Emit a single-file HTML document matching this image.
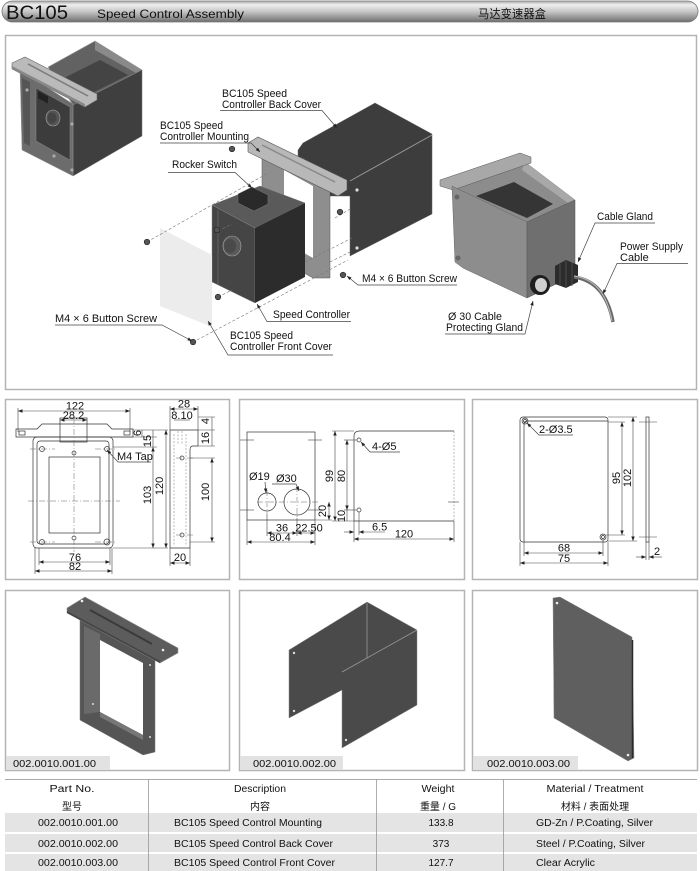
<!DOCTYPE html>
<html><head><meta charset="utf-8"><style>
html,body{margin:0;padding:0;background:#fff;}
svg{display:block;}
text{font-family:"Liberation Sans","Noto Sans CJK SC",sans-serif;fill:#111;}
.d{stroke:#444;stroke-width:0.6;fill:none;}
.c{stroke:#666;stroke-width:0.5;fill:none;stroke-dasharray:6,2,1,2;}
.h{stroke:#777;stroke-width:0.5;fill:none;stroke-dasharray:2,1.5;}
.ld{stroke:#444;stroke-width:0.7;fill:none;}
.dash{stroke:#777;stroke-width:0.6;fill:none;stroke-dasharray:3,2;}
.o{stroke:#333;stroke-width:0.7;fill:none;}
.n{font-size:11px;}
.l{font-size:11px;}
.t{font-size:10px;}
</style></head><body>
<svg width="700" height="871" viewBox="0 0 700 871" xmlns="http://www.w3.org/2000/svg">
<defs>
<linearGradient id="hg" x1="0" y1="0" x2="0" y2="1">
<stop offset="0" stop-color="#a8a8a8"/><stop offset="0.18" stop-color="#eeeeee"/><stop offset="0.5" stop-color="#c6c6c6"/><stop offset="0.85" stop-color="#8a8a8a"/><stop offset="1" stop-color="#6c6c6c"/>
</linearGradient>
<marker id="ar" viewBox="0 0 6 6" refX="6" refY="3" markerWidth="4.5" markerHeight="4.5" markerUnits="userSpaceOnUse" orient="auto-start-reverse"><path d="M0,0.7 L6,3 L0,5.3 Z" fill="#222"/></marker>
</defs>

<!-- HEADER -->
<rect x="2" y="1" width="696" height="21" rx="10.5" fill="url(#hg)" stroke="#777" stroke-width="0.8"/>
<text x="6" y="19" font-size="19" textLength="62" lengthAdjust="spacingAndGlyphs">BC105</text>
<text x="97" y="18" font-size="12" textLength="147" lengthAdjust="spacingAndGlyphs">Speed Control Assembly</text>
<text x="478" y="18" font-size="12" textLength="68" lengthAdjust="spacingAndGlyphs">马达变速器盒</text>

<!-- PANELS -->
<rect x="5.5" y="35.5" width="691" height="354" fill="#fff" stroke="#b4b4b4" stroke-width="1.5"/>
<rect x="5.5" y="399.5" width="224" height="180" fill="#fff" stroke="#b4b4b4" stroke-width="1.5"/>
<rect x="239.5" y="399.5" width="225" height="180" fill="#fff" stroke="#b4b4b4" stroke-width="1.5"/>
<rect x="472.5" y="399.5" width="225" height="180" fill="#fff" stroke="#b4b4b4" stroke-width="1.5"/>
<rect x="5.5" y="590.5" width="224" height="180" fill="#fff" stroke="#b4b4b4" stroke-width="1.5"/>
<rect x="239.5" y="590.5" width="225" height="180" fill="#fff" stroke="#b4b4b4" stroke-width="1.5"/>
<rect x="472.5" y="590.5" width="225" height="180" fill="#fff" stroke="#b4b4b4" stroke-width="1.5"/>

<!-- ===== TOP ASSEMBLY ===== -->
<!-- top-left assembled box -->
<polygon points="48,67 95,41 142,70 73,105" fill="#626262" stroke="#aaa" stroke-width="0.6"/>
<polygon points="95,41 142,70 136,73 95,50" fill="#8a8a8a"/>
<polygon points="64,78 100,60 128,75 92,93" fill="#444"/>
<polygon points="73,105 142,70 142,136 73,176" fill="#3f3f3f" stroke="#777" stroke-width="0.5"/>
<polygon points="20,70 73,104 73,176 22,150" fill="#6c6c6c" stroke="#999" stroke-width="0.5"/>
<polygon points="36,88 70,107 70,160 36,141" fill="#3c3c3c" stroke="#888" stroke-width="0.5"/>
<polygon points="22,78 30,82 30,146 24,143" fill="#555"/>
<ellipse cx="53" cy="118" rx="7" ry="8" fill="#555" stroke="#aaa" stroke-width="0.6"/>
<ellipse cx="52" cy="118" rx="4.5" ry="5.5" fill="#444"/>
<rect x="38" y="93" width="10" height="7" fill="#222" transform="skewY(28) translate(0,-22)"/>
<circle cx="27" cy="90" r="1.6" fill="#aaa"/><circle cx="72" cy="124" r="1.6" fill="#aaa"/><circle cx="72" cy="170" r="1.6" fill="#aaa"/><circle cx="54" cy="156" r="1.6" fill="#aaa"/>
<polygon points="12,63 25,57 97,94 97,100 85,107 12,69" fill="#bababa" stroke="#666" stroke-width="0.6"/>
<polygon points="12,66 85,104 85,107 12,69" fill="#888"/>
<line x1="28" y1="64" x2="88" y2="96" stroke="#7a7a7a" stroke-width="1.5"/>

<!-- back cover -->
<polygon points="298,150 303,143 375,103 432,134 432,214 350,256 350,196 298,196" fill="#3d3d3d" stroke="#666" stroke-width="0.5"/>
<line x1="350" y1="181" x2="432" y2="135" stroke="#9a9a9a" stroke-width="1"/>
<circle cx="303" cy="160" r="1.6" fill="#ddd"/><circle cx="357" cy="190" r="1.6" fill="#ddd"/><circle cx="357" cy="248" r="1.6" fill="#ddd"/>
<!-- mounting frame -->
<polygon points="262,150 330,188 330,278 313,278 262,250" fill="#8e8e8e" stroke="#555" stroke-width="0.5"/>
<polygon points="284,170 313,186 313,258 284,242" fill="#fff"/>
<polygon points="248,143 258,137 347,180 347,190 338,196 248,152" fill="#b8b8b8" stroke="#555" stroke-width="0.6"/>
<line x1="262" y1="145" x2="335" y2="182" stroke="#888" stroke-width="1.5"/>
<!-- controller -->
<polygon points="212,205 260,186 305,203 255,228" fill="#5a5a5a" stroke="#777" stroke-width="0.5"/>
<polygon points="212,205 255,228 255,303 212,282" fill="#454545" stroke="#888" stroke-width="0.5"/>
<polygon points="255,228 305,203 305,277 255,303" fill="#2c2c2c"/>
<line x1="218" y1="210" x2="218" y2="285" stroke="#777" stroke-width="0.6"/>
<ellipse cx="232" cy="246" rx="9" ry="10" fill="#5a5a5a" stroke="#aaa" stroke-width="0.6"/>
<ellipse cx="230" cy="246" rx="6" ry="7" fill="#4a4a4a"/>
<polygon points="238,194 252,187 268,195 268,204 254,211 238,203" fill="#2a2a2a" stroke="#777" stroke-width="0.5"/>
<!-- front cover -->
<polygon points="160,228 212,255 212,327 160,306" fill="#ececec"/>
<!-- dashed assembly lines -->
<line class="dash" x1="147" y1="242" x2="268" y2="173"/>
<line class="dash" x1="197" y1="340" x2="348" y2="260"/>
<line class="dash" x1="218" y1="297" x2="232" y2="290"/>
<line class="dash" x1="305" y1="262" x2="352" y2="238"/>
<line class="dash" x1="218" y1="231" x2="232" y2="224"/>
<line class="dash" x1="330" y1="262" x2="350" y2="252"/>
<line class="dash" x1="335" y1="218" x2="352" y2="208"/>
<!-- screws -->
<g fill="#555" stroke="#222" stroke-width="0.6">
<circle cx="147" cy="242" r="2.8"/><circle cx="217" cy="230" r="2.8"/><circle cx="218" cy="297" r="2.8"/><circle cx="193" cy="342" r="2.8"/><circle cx="232" cy="149" r="2.8"/><circle cx="340" cy="212" r="2.8"/><circle cx="343" cy="275" r="2.8"/>
</g>

<!-- right assembled box -->
<polygon points="452,186 525,162 575,200 527,222" fill="#8c8c8c" stroke="#666" stroke-width="0.5"/>
<polygon points="525,162 575,200 568,203 522,170" fill="#a8a8a8"/>
<polygon points="476,196 514,182 553,204 527,218" fill="#353535"/>
<polygon points="440,180 520,153 531,157 531,163 453,190 440,186" fill="#a8a8a8" stroke="#555" stroke-width="0.5"/>
<polygon points="452,186 527,222 527,298 463,268 455,262" fill="#8d8d8d" stroke="#666" stroke-width="0.5"/>
<polygon points="527,222 575,200 575,275 527,298" fill="#6f6f6f" stroke="#555" stroke-width="0.5"/>
<circle cx="457" cy="197" r="2.5" fill="#666"/><circle cx="458" cy="258" r="2.5" fill="#666"/>
<circle cx="540" cy="285" r="10" fill="#1e1e1e"/>
<ellipse cx="541" cy="285" rx="6" ry="7" fill="#cfcfcf"/>
<polygon points="555,266 566,260 578,265 578,282 566,288 555,284" fill="#2c2c2c"/>
<line x1="560" y1="264" x2="560" y2="286" stroke="#555" stroke-width="0.8"/>
<line x1="566" y1="261" x2="566" y2="288" stroke="#555" stroke-width="0.8"/>
<line x1="572" y1="262" x2="572" y2="286" stroke="#555" stroke-width="0.8"/>
<path d="M574,277 C595,280 608,295 613,322" stroke="#6a6a6a" stroke-width="3.5" fill="none"/>
<path d="M574,276 C595,279 607,294 612,321" stroke="#bbb" stroke-width="1" fill="none"/>

<!-- top labels -->
<text class="l" x="222" y="97" textLength="65" lengthAdjust="spacingAndGlyphs">BC105 Speed</text>
<text class="l" x="222" y="108" textLength="99" lengthAdjust="spacingAndGlyphs">Controller Back Cover</text>
<polyline class="ld" points="220,110.5 322,110.5 337,128" marker-end="url(#ar)"/>
<text class="l" x="160" y="129" textLength="63" lengthAdjust="spacingAndGlyphs">BC105 Speed</text>
<text class="l" x="160" y="140" textLength="89" lengthAdjust="spacingAndGlyphs">Controller Mounting</text>
<polyline class="ld" points="160,143 251,143 260,152" marker-end="url(#ar)"/>
<text class="l" x="172" y="168" textLength="65" lengthAdjust="spacingAndGlyphs">Rocker Switch</text>
<polyline class="ld" points="168,172.5 235,172.5 252,188" marker-end="url(#ar)"/>
<text class="l" x="273" y="318" textLength="77" lengthAdjust="spacingAndGlyphs">Speed Controller</text>
<polyline class="ld" points="351,321.5 267,321.5 257,304" marker-end="url(#ar)"/>
<text class="l" x="230" y="339" textLength="63" lengthAdjust="spacingAndGlyphs">BC105 Speed</text>
<text class="l" x="230" y="350" textLength="102" lengthAdjust="spacingAndGlyphs">Controller Front Cover</text>
<polyline class="ld" points="333,355 228,355 208,321" marker-end="url(#ar)"/>
<text class="l" x="55" y="322" textLength="102" lengthAdjust="spacingAndGlyphs">M4 × 6 Button Screw</text>
<polyline class="ld" points="55,325 162,325 192,341" marker-end="url(#ar)"/>
<text class="l" x="362" y="282" textLength="95" lengthAdjust="spacingAndGlyphs">M4 × 6 Button Screw</text>
<polyline class="ld" points="457,285 358,285 347,276" marker-end="url(#ar)"/>
<text class="l" x="597" y="220" textLength="56" lengthAdjust="spacingAndGlyphs">Cable Gland</text>
<polyline class="ld" points="655,223 595,223 578,262" marker-end="url(#ar)"/>
<text class="l" x="620" y="250" textLength="63" lengthAdjust="spacingAndGlyphs">Power Supply</text>
<text class="l" x="620" y="261">Cable</text>
<polyline class="ld" points="688,263.5 617,263.5 603,294" marker-end="url(#ar)"/>
<text class="l" x="448" y="320" textLength="54" lengthAdjust="spacingAndGlyphs">Ø 30 Cable</text>
<text class="l" x="446" y="331" textLength="77" lengthAdjust="spacingAndGlyphs">Protecting Gland</text>
<polyline class="ld" points="445,334 525,334 533,301" marker-end="url(#ar)"/>

<!-- ===== DRAWING PANEL 1 ===== -->
<line class="d" x1="18" y1="411" x2="130" y2="411" marker-start="url(#ar)" marker-end="url(#ar)"/>
<text class="n" x="75" y="409.5" text-anchor="middle">122</text>
<line class="d" x1="18" y1="408" x2="18" y2="432"/><line class="d" x1="130" y1="408" x2="130" y2="432"/>
<line class="d" x1="60" y1="420" x2="87" y2="420" marker-start="url(#ar)" marker-end="url(#ar)"/>
<text class="n" x="73.5" y="419" text-anchor="middle">28.2</text>
<path class="o" d="M16,429 H37 L42,424 H107 L112,429 H133 V437 H16 Z"/>
<rect class="o" x="60" y="418" width="27" height="24"/>
<rect x="19" y="431" width="6" height="4" class="o"/><rect x="124" y="431" width="6" height="4" class="o"/>
<rect class="o" x="33" y="437" width="80" height="111" rx="4"/>
<rect class="o" x="37" y="441" width="72" height="103" rx="3"/>
<rect class="o" x="49" y="457" width="51" height="76"/>
<g class="o"><circle cx="42" cy="449" r="2.5"/><circle cx="107" cy="449" r="2.5"/><circle cx="42" cy="542" r="2.5"/><circle cx="107" cy="542" r="3"/><circle cx="74" cy="453" r="2"/><circle cx="74" cy="538" r="2"/></g>
<line class="c" x1="28" y1="501" x2="120" y2="501"/>
<line class="c" x1="74" y1="418" x2="74" y2="552"/>
<line class="c" x1="30" y1="449" x2="55" y2="449"/><line class="c" x1="95" y1="449" x2="116" y2="449"/>
<line class="c" x1="30" y1="542" x2="55" y2="542"/><line class="c" x1="95" y1="542" x2="116" y2="542"/>
<text class="n" x="117" y="460">M4 Tap</text>
<polyline class="ld" points="151,462 118,462 107,450" marker-end="url(#ar)"/>
<line class="d" x1="133" y1="430" x2="168" y2="430"/>
<line class="d" x1="113" y1="437" x2="157" y2="437"/>
<line class="d" x1="113" y1="447" x2="157" y2="447"/>
<line class="d" x1="113" y1="548" x2="168" y2="548"/>
<line class="d" x1="153" y1="447" x2="153" y2="548" marker-start="url(#ar)" marker-end="url(#ar)"/>
<line class="d" x1="166" y1="430" x2="166" y2="548" marker-start="url(#ar)" marker-end="url(#ar)"/>
<line class="d" x1="153" y1="430" x2="153" y2="447"/>
<line class="d" x1="142" y1="430" x2="142" y2="437"/>
<text class="n" transform="translate(141,433) rotate(-90)" text-anchor="middle" font-size="9">6</text>
<text class="n" transform="translate(151,441) rotate(-90)" text-anchor="middle">15</text>
<text class="n" transform="translate(151,495) rotate(-90)" text-anchor="middle">103</text>
<text class="n" transform="translate(163,486) rotate(-90)" text-anchor="middle">120</text>
<line class="d" x1="39" y1="548" x2="39" y2="565"/><line class="d" x1="110" y1="548" x2="110" y2="565"/>
<line class="d" x1="35" y1="548" x2="35" y2="574"/><line class="d" x1="112" y1="548" x2="112" y2="574"/>
<line class="d" x1="39" y1="562" x2="110" y2="562" marker-start="url(#ar)" marker-end="url(#ar)"/>
<text class="n" x="75" y="561" text-anchor="middle">76</text>
<line class="d" x1="35" y1="571" x2="112" y2="571" marker-start="url(#ar)" marker-end="url(#ar)"/>
<text class="n" x="75" y="570" text-anchor="middle">82</text>
<!-- side view -->
<path class="o" d="M170,430 H198 V446 H193 Q190,446 190,450 V548 H170 Z"/>
<line class="h" x1="174" y1="434" x2="174" y2="545"/>
<line class="h" x1="186" y1="434" x2="186" y2="545"/>
<line class="h" x1="178" y1="431" x2="178" y2="445"/><line class="h" x1="182" y1="431" x2="182" y2="445"/>
<circle class="o" cx="182" cy="458" r="2"/><circle class="o" cx="182" cy="535" r="2"/>
<line class="c" x1="176" y1="458" x2="195" y2="458"/><line class="c" x1="176" y1="535" x2="195" y2="535"/>
<line class="d" x1="170" y1="406" x2="170" y2="430"/><line class="d" x1="198" y1="406" x2="198" y2="430"/>
<line class="d" x1="170" y1="409" x2="198" y2="409" marker-start="url(#ar)" marker-end="url(#ar)"/>
<text class="n" x="184" y="407.5" text-anchor="middle">28</text>
<line class="d" x1="174" y1="420" x2="190" y2="420"/>
<text class="n" x="182" y="419" text-anchor="middle" font-size="10">8.10</text>
<line class="d" x1="198" y1="417" x2="215" y2="417"/>
<line class="d" x1="198" y1="430" x2="215" y2="430"/>
<line class="d" x1="198" y1="446" x2="215" y2="446"/>
<line class="d" x1="190" y1="458" x2="215" y2="458"/>
<line class="d" x1="190" y1="542" x2="215" y2="542"/>
<line class="d" x1="212" y1="417" x2="212" y2="446"/>
<line class="d" x1="212" y1="458" x2="212" y2="542" marker-start="url(#ar)" marker-end="url(#ar)"/>
<text class="n" transform="translate(209,421) rotate(-90)" text-anchor="middle">4</text>
<text class="n" transform="translate(209,438) rotate(-90)" text-anchor="middle">16</text>
<text class="n" transform="translate(209,492) rotate(-90)" text-anchor="middle">100</text>
<line class="d" x1="170" y1="548" x2="170" y2="566"/><line class="d" x1="190" y1="548" x2="190" y2="566"/>
<line class="d" x1="170" y1="563" x2="190" y2="563" marker-start="url(#ar)" marker-end="url(#ar)"/>
<text class="n" x="180" y="561" text-anchor="middle">20</text>

<!-- ===== DRAWING PANEL 2 ===== -->
<rect class="o" x="247" y="432" width="68" height="88"/>
<line class="d" x1="240" y1="440" x2="254" y2="440"/><line class="d" x1="308" y1="440" x2="322" y2="440"/>
<line class="d" x1="240" y1="510" x2="254" y2="510"/><line class="d" x1="308" y1="510" x2="322" y2="510"/>
<circle class="o" cx="267" cy="502" r="9"/>
<circle class="o" cx="297" cy="502" r="13"/>
<line class="c" x1="257" y1="502" x2="318" y2="502"/>
<line class="c" x1="267" y1="490" x2="267" y2="514"/><line class="c" x1="297" y1="486" x2="297" y2="518"/>
<text class="n" x="249" y="480">Ø19</text>
<line class="ld" x1="265" y1="482" x2="266" y2="493" marker-end="url(#ar)"/>
<text class="n" x="276" y="482">Ø30</text>
<polyline class="ld" points="272,484 296,484 299,491" marker-end="url(#ar)"/>
<line class="d" x1="267" y1="514" x2="267" y2="536"/><line class="d" x1="297" y1="518" x2="297" y2="536"/>
<line class="d" x1="247" y1="520" x2="247" y2="545"/><line class="d" x1="315" y1="520" x2="315" y2="545"/>
<line class="d" x1="267" y1="533" x2="297" y2="533" marker-start="url(#ar)" marker-end="url(#ar)"/>
<line class="d" x1="297" y1="533" x2="315" y2="533" marker-start="url(#ar)" marker-end="url(#ar)"/>
<text class="n" x="282" y="531.5" text-anchor="middle">36</text>
<text class="n" x="309" y="531.5" text-anchor="middle">22.50</text>
<line class="d" x1="247" y1="542" x2="315" y2="542" marker-start="url(#ar)" marker-end="url(#ar)"/>
<text class="n" x="280" y="541" text-anchor="middle">80.4</text>
<line class="d" x1="315" y1="520" x2="332" y2="520"/>
<line class="d" x1="329" y1="502" x2="329" y2="520" marker-start="url(#ar)" marker-end="url(#ar)"/>
<text class="n" transform="translate(326,511) rotate(-90)" text-anchor="middle">20</text>
<!-- right view -->
<path class="o" d="M354,436 Q354,431 360,431 H454"/>
<line class="o" x1="354" y1="436" x2="354" y2="521"/>
<line class="o" x1="354" y1="521" x2="454" y2="521"/>
<line class="h" x1="454" y1="431" x2="454" y2="521"/>
<line class="d" x1="448" y1="502" x2="459" y2="502"/>
<circle class="o" cx="359" cy="440" r="2"/><circle class="o" cx="359" cy="510" r="2"/>
<text class="n" x="372" y="450">4-Ø5</text>
<polyline class="ld" points="400,452 370,452 361,442" marker-end="url(#ar)"/>
<line class="d" x1="332" y1="431" x2="354" y2="431"/>
<line class="d" x1="344" y1="440" x2="357" y2="440"/>
<line class="d" x1="344" y1="510" x2="357" y2="510"/>
<line class="d" x1="332" y1="521" x2="354" y2="521"/>
<line class="d" x1="335" y1="431" x2="335" y2="521" marker-start="url(#ar)" marker-end="url(#ar)"/>
<line class="d" x1="347" y1="440" x2="347" y2="510" marker-start="url(#ar)" marker-end="url(#ar)"/>
<line class="d" x1="347" y1="510" x2="347" y2="521"/>
<text class="n" transform="translate(333,476) rotate(-90)" text-anchor="middle">99</text>
<text class="n" transform="translate(345,476) rotate(-90)" text-anchor="middle">80</text>
<text class="n" transform="translate(345,516) rotate(-90)" text-anchor="middle" font-size="10">10</text>
<line class="d" x1="359" y1="512" x2="359" y2="535"/>
<line class="d" x1="354" y1="521" x2="354" y2="542"/>
<line class="d" x1="454" y1="521" x2="454" y2="542"/>
<line class="d" x1="344" y1="532" x2="354" y2="532" marker-end="url(#ar)"/>
<line class="d" x1="385" y1="532" x2="359" y2="532" marker-end="url(#ar)"/>
<text class="n" x="372" y="530.5">6.5</text>
<line class="d" x1="354" y1="539" x2="454" y2="539" marker-start="url(#ar)" marker-end="url(#ar)"/>
<text class="n" x="404" y="537.5" text-anchor="middle">120</text>

<!-- ===== DRAWING PANEL 3 ===== -->
<rect class="o" x="520" y="417" width="88" height="125" rx="3"/>
<path class="o" d="M524,542 V424 Q524,421 527,421 H608"/>
<circle class="o" cx="525" cy="421" r="3"/><circle class="o" cx="525" cy="421" r="1.5"/>
<circle class="o" cx="603" cy="537" r="3"/><circle class="o" cx="603" cy="537" r="1.5"/>
<text class="n" x="539" y="433">2-Ø3.5</text>
<polyline class="ld" points="573,435 539,435 527,423" marker-end="url(#ar)"/>
<line class="d" x1="608" y1="417" x2="637" y2="417"/>
<line class="d" x1="608" y1="422" x2="625" y2="422"/>
<line class="d" x1="606" y1="535" x2="625" y2="535"/>
<line class="d" x1="608" y1="541" x2="637" y2="541"/>
<line class="d" x1="622" y1="422" x2="622" y2="535" marker-start="url(#ar)" marker-end="url(#ar)"/>
<line class="d" x1="633" y1="417" x2="633" y2="541" marker-start="url(#ar)" marker-end="url(#ar)"/>
<text class="n" transform="translate(620,478) rotate(-90)" text-anchor="middle">95</text>
<text class="n" transform="translate(631,478) rotate(-90)" text-anchor="middle">102</text>
<rect class="o" x="646" y="417" width="3" height="125"/>
<line class="d" x1="639" y1="422" x2="657" y2="422"/><line class="d" x1="639" y1="537" x2="657" y2="537"/>
<line class="d" x1="646" y1="542" x2="646" y2="560"/><line class="d" x1="649" y1="542" x2="649" y2="560"/>
<line class="d" x1="636" y1="557" x2="646" y2="557" marker-end="url(#ar)"/>
<line class="d" x1="662" y1="557" x2="649" y2="557" marker-end="url(#ar)"/>
<text class="n" x="654" y="555">2</text>
<line class="d" x1="520" y1="542" x2="520" y2="566"/><line class="d" x1="608" y1="542" x2="608" y2="566"/>
<line class="d" x1="524" y1="542" x2="524" y2="556"/><line class="d" x1="603" y1="540" x2="603" y2="556"/>
<line class="d" x1="524" y1="553" x2="603" y2="553" marker-start="url(#ar)" marker-end="url(#ar)"/>
<text class="n" x="564" y="551.5" text-anchor="middle">68</text>
<line class="d" x1="520" y1="563" x2="608" y2="563" marker-start="url(#ar)" marker-end="url(#ar)"/>
<text class="n" x="564" y="562" text-anchor="middle">75</text>

<!-- ===== BOTTOM IMAGE PANELS ===== -->
<!-- mounting frame -->
<polygon points="80,620 155,660 155,752 143,755 80,720" fill="#555" stroke="#777" stroke-width="0.5"/>
<polygon points="84,626 100,634 100,712 84,714" fill="#6a6a6a"/>
<polygon points="100,640 143,663 143,735 100,712" fill="#fff"/>
<polygon points="100,712 143,735 143,740 100,717" fill="#777"/>
<polygon points="67,608 85,597 178,648 178,653 160,663 67,613" fill="#5c5c5c" stroke="#999" stroke-width="0.6"/>
<polygon points="67,611 160,661 160,663 67,613" fill="#444"/>
<line x1="90" y1="610" x2="152" y2="644" stroke="#3a3a3a" stroke-width="2"/>
<circle cx="82" cy="601" r="1.3" fill="#eee"/><circle cx="163" cy="650" r="1.3" fill="#eee"/>
<circle cx="93" cy="704" r="1" fill="#ddd"/><circle cx="150" cy="665" r="1" fill="#ddd"/><circle cx="150" cy="737" r="1" fill="#ddd"/>
<rect x="6" y="756" width="104" height="14" fill="#e2e2e2"/>
<text class="t" x="13" y="767" textLength="83" lengthAdjust="spacingAndGlyphs">002.0010.001.00</text>
<!-- back cover -->
<polygon points="289,650 367,602 417,630 417,705 342,748 342,690 289,718" fill="#4a4a4a" stroke="#888" stroke-width="0.5"/>
<line x1="367" y1="603" x2="367" y2="658" stroke="#999" stroke-width="0.8"/>
<line x1="342" y1="672" x2="417" y2="630" stroke="#999" stroke-width="0.8"/>
<circle cx="294" cy="653" r="1.2" fill="#ddd"/><circle cx="294" cy="711" r="1.2" fill="#ddd"/><circle cx="346" cy="740" r="1.2" fill="#ddd"/>
<rect x="240" y="756" width="103" height="14" fill="#e2e2e2"/>
<text class="t" x="253" y="767" textLength="83" lengthAdjust="spacingAndGlyphs">002.0010.002.00</text>
<!-- front cover -->
<polygon points="553,598 560,597 632,637 634,758 628,761 554,718" fill="#5f5f5f" stroke="#888" stroke-width="0.5"/>
<line x1="632.5" y1="640" x2="632.5" y2="758" stroke="#2a2a2a" stroke-width="1.5"/>
<circle cx="557" cy="603" r="1.3" fill="#eee"/><circle cx="628" cy="755" r="1.3" fill="#eee"/>
<rect x="473" y="756" width="105" height="14" fill="#e2e2e2"/>
<text class="t" x="487" y="767" textLength="83" lengthAdjust="spacingAndGlyphs">002.0010.003.00</text>

<!-- ===== TABLE ===== -->
<line x1="5" y1="779.5" x2="697" y2="779.5" stroke="#aaa" stroke-width="1"/>
<rect x="5" y="813" width="692" height="19" fill="#e4e4e4"/>
<rect x="5" y="834" width="692" height="18" fill="#e4e4e4"/>
<rect x="5" y="854" width="692" height="17" fill="#e4e4e4"/>
<g stroke="#999" stroke-width="0.8">
<line x1="148.5" y1="779" x2="148.5" y2="871"/>
<line x1="376.5" y1="779" x2="376.5" y2="871"/>
<line x1="503.5" y1="779" x2="503.5" y2="871"/>
</g>
<g class="t" text-anchor="middle">
<text x="72" y="792" textLength="45" lengthAdjust="spacingAndGlyphs">Part No.</text>
<text x="260" y="792" textLength="52" lengthAdjust="spacingAndGlyphs">Description</text>
<text x="438" y="792" textLength="33" lengthAdjust="spacingAndGlyphs">Weight</text>
<text x="595" y="792" textLength="97" lengthAdjust="spacingAndGlyphs">Material / Treatment</text>
<text x="72" y="810" fill="#444">型号</text>
<text x="260" y="810" fill="#444">内容</text>
<text x="438" y="810" fill="#444">重量 / G</text>
<text x="595" y="810" fill="#444">材料 / 表面处理</text>
<text x="78" y="826" textLength="80" lengthAdjust="spacingAndGlyphs">002.0010.001.00</text>
<text x="78" y="847" textLength="80" lengthAdjust="spacingAndGlyphs">002.0010.002.00</text>
<text x="78" y="866" textLength="80" lengthAdjust="spacingAndGlyphs">002.0010.003.00</text>
<text x="441" y="826">133.8</text>
<text x="441" y="847">373</text>
<text x="441" y="866">127.7</text>
</g>
<g class="t">
<text x="174" y="826" textLength="148" lengthAdjust="spacingAndGlyphs">BC105 Speed Control Mounting</text>
<text x="174" y="847" textLength="159" lengthAdjust="spacingAndGlyphs">BC105 Speed Control Back Cover</text>
<text x="174" y="866" textLength="161" lengthAdjust="spacingAndGlyphs">BC105 Speed Control Front Cover</text>
<text x="536" y="826" textLength="117" lengthAdjust="spacingAndGlyphs">GD-Zn / P.Coating, Silver</text>
<text x="536" y="847" textLength="109" lengthAdjust="spacingAndGlyphs">Steel / P.Coating, Silver</text>
<text x="536" y="866" textLength="59" lengthAdjust="spacingAndGlyphs">Clear Acrylic</text>
</g>
</svg>
</body></html>
